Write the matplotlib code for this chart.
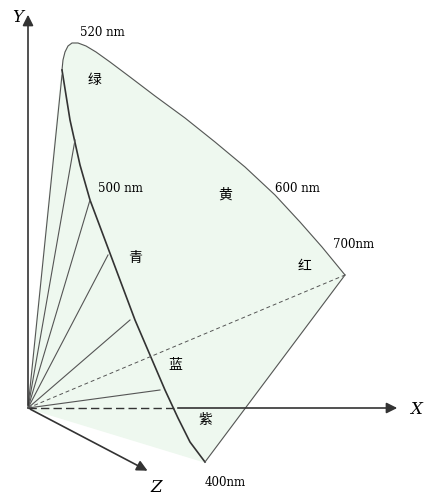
import matplotlib.pyplot as plt
import numpy as np

plt.rcParams['font.family'] = ['Noto Sans CJK SC', 'DejaVu Sans']

# outline of the spectral locus, in picture coordinates (x right, y down)
upper_x = [62, 63, 65, 68, 72, 78, 86, 96, 110, 130, 155, 185, 215, 245, 275, 300, 322, 345]
upper_y = [70, 60, 52, 46, 43, 43, 46, 52, 62, 77, 96, 118, 142, 167, 195, 222, 247, 275]
lower_x = [62, 70, 80, 90, 105, 120, 135, 150, 165, 178, 190, 205]
lower_y = [70, 120, 165, 200, 240, 280, 320, 355, 390, 418, 442, 462]
rays_x = [62, 75, 90, 108, 130, 160]
rays_y = [75, 140, 200, 255, 320, 390]
origin = (28, 408)

fig = plt.figure(figsize=(4.42, 5.0), dpi=100)
ax = fig.add_axes([0, 0, 1, 1])
ax.set_xlim(0, 442)
ax.set_ylim(500, 0)
ax.axis('off')

px = upper_x + [205] + lower_x[::-1]
py = upper_y + [462] + lower_y[::-1]
ax.fill(px, py, color='#eef8ef', zorder=1)
ax.plot(upper_x, upper_y, color='#555', lw=0.8)
ax.plot(lower_x, lower_y, color='#333', lw=1.2)
ax.plot([345, 205], [275, 462], color='#555', lw=0.8)
ax.fill([origin[0]] + lower_x, [origin[1]] + lower_y, color='#eef8ef', zorder=0)
for rx, ry in zip(rays_x, rays_y):
    ax.plot([origin[0], rx], [origin[1], ry], color='#555', lw=0.8)
ax.plot([origin[0], 345], [origin[1], 275], color='#555', lw=0.7, ls=(0, (4, 3)))
ax.plot([origin[0], 175], [origin[1], 408], color='#333', lw=1.0, ls=(0, (6, 3)))

arrow = dict(arrowstyle='-|>', color='#333', lw=1.2, mutation_scale=16)
ax.annotate('', xy=(28, 12), xytext=origin, arrowprops=arrow)
ax.annotate('', xy=(400, 408), xytext=(175, 408), arrowprops=arrow)
ax.annotate('', xy=(150, 472), xytext=origin, arrowprops=arrow)

serif = dict(family='DejaVu Serif', style='italic', fontsize=12)
ax.text(12, 22, 'Y', **serif)
ax.text(410, 414, 'X', **serif)
ax.text(150, 492, 'Z', **serif)

labels = [('520 nm', 80, 33), ('500 nm', 98, 188), ('600 nm', 275, 188),
          ('700nm', 333, 245), ('400nm', 205, 482)]
for t, x, y in labels:
    ax.text(x, y, t, family='DejaVu Serif', fontsize=8.5, va='center')
cn = [('绿', 95, 80), ('黄', 225, 195), ('青', 135, 258), ('红', 305, 266),
      ('蓝', 175, 365), ('紫', 205, 420)]
for t, x, y in cn:
    ax.text(x, y, t, fontsize=10, ha='center', va='center')

fig.savefig('out.png', dpi=100)
